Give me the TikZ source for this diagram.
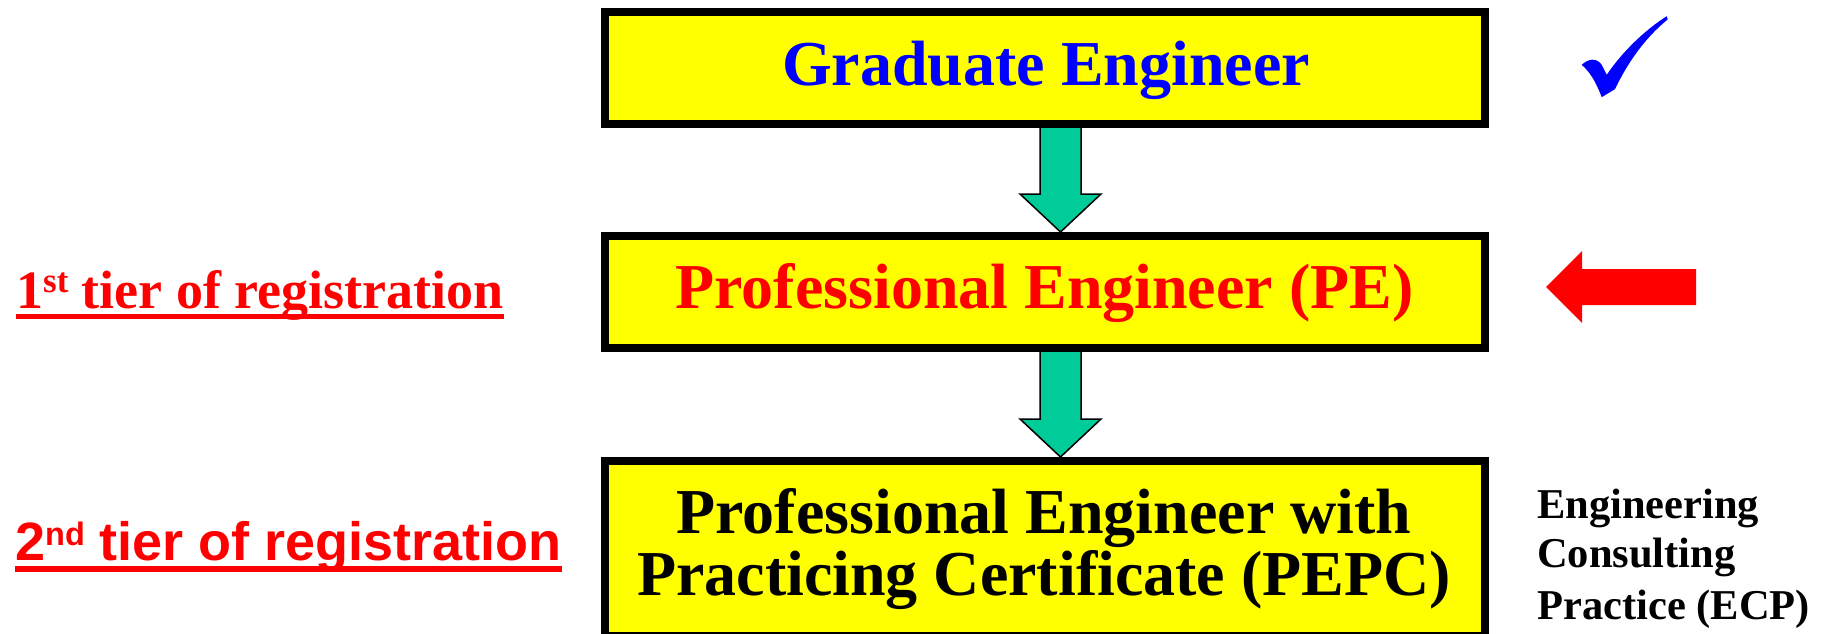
\documentclass[tikz,border=0pt]{standalone}
\usepackage{fontspec}
\setmainfont{Liberation Serif}
\newfontfamily\arialfont{Liberation Sans}
\usetikzlibrary{calc}
\definecolor{boxyellow}{RGB}{255,255,0}
\definecolor{arrteal}{RGB}{0,204,153}
\definecolor{myred}{RGB}{255,0,0}
\definecolor{myblue}{RGB}{0,0,255}
\newcommand{\blockarr}[2]{%
  \draw[tealarr] let \p1=(#1), \p2=(#2) in
    (\x1-20.5pt,\y1) -- (\x1+20.5pt,\y1) -- (\x1+20.5pt,\y2+38pt)
    -- (\x1+40.5pt,\y2+38pt) -- (\x2,\y2) -- (\x1-40.5pt,\y2+38pt)
    -- (\x1-20.5pt,\y2+38pt) -- cycle;}
\begin{document}
\begin{tikzpicture}[x=1pt,y=-1pt,
  regbox/.style={draw=black, line width=8pt, fill=boxyellow, minimum width=880pt, inner sep=0pt, line join=miter},
  bigtxt/.style={anchor=base, inner sep=0pt, font=\fontsize{64}{64}\selectfont\bfseries},
  sidetxt/.style={anchor=base west, inner sep=0pt, font=\fontsize{42.5}{42.5}\selectfont\bfseries},
  tealarr/.style={draw=black, line width=1.5pt, fill=arrteal, line join=miter},
  tierline/.style={myred, line width=5pt}]
\useasboundingbox (0,0) rectangle (1823,634);
\clip (0,0) rectangle (1823,634);

% boxes
\node[regbox, minimum height=112pt] (ge) at (1045,68) {};
\node[regbox, minimum height=112pt] (pe) at (1045,292) {};
\node[regbox, minimum height=175pt] (pepc) at (1045,548.5) {};

% box texts
\node[bigtxt, text=myblue] (getxt) at (1046,85) {Graduate Engineer};
\node[bigtxt, text=myred] (petxt) at (1044.5,308) {Professional Engineer (PE)};
\node[bigtxt, text=black] (pepc1) at (1044,533) {Professional Engineer with};
\node[bigtxt, text=black] (pepc2) at (1044,595) {Practicing Certificate (PEPC)};

% block arrows
\blockarr{[xshift=15.5pt,yshift=1pt]ge.south}{[xshift=15.5pt]pe.north}
\blockarr{[xshift=15.5pt,yshift=1pt]pe.south}{[xshift=15.5pt]pepc.north}

% left labels
\node[anchor=base west, inner sep=0pt, text=myred, font=\fontsize{54}{54}\selectfont\bfseries] (t1) at (16,308)
  {1\raisebox{16pt}{\fontsize{35}{35}\selectfont st} tier of registration};
\draw[tierline] ([yshift=-8.5pt]t1.base west) -- ([yshift=-8.5pt]t1.base east);
\node[anchor=base west, inner sep=0pt, text=myred, font=\arialfont\fontsize{54}{54}\selectfont\bfseries] (t2) at (15,560)
  {2\raisebox{15pt}{\fontsize{32.5}{32.5}\selectfont nd} tier of registration};
\draw[tierline, line width=6pt] ([yshift=-9pt]t2.base west) -- ([yshift=-9pt]t2.base east);

% right side
\fill[myblue] (1581.7,64.8) .. controls (1588,59) and (1596,57) .. (1601.7,64.8)
  -- (1606.7,74.9) .. controls (1622,52) and (1645,30) .. (1666.7,16.2)
  -- (1667.7,19.4) .. controls (1645,38) and (1628,62) .. (1615,89.1)
  -- (1601.7,97.2) .. controls (1596,82) and (1590,72) .. cycle;
\fill[myred] (1546,287) -- (1582,251) -- (1582,269) -- (1696,269) -- (1696,305)
  -- (1582,305) -- (1582,323) -- cycle;
\node[sidetxt] (ecp1) at (1537,518) {Engineering};
\node[sidetxt] (ecp2) at (1537,567) {Consulting};
\node[sidetxt] (ecp3) at (1537,619) {Practice (ECP)};
\end{tikzpicture}
\end{document}
